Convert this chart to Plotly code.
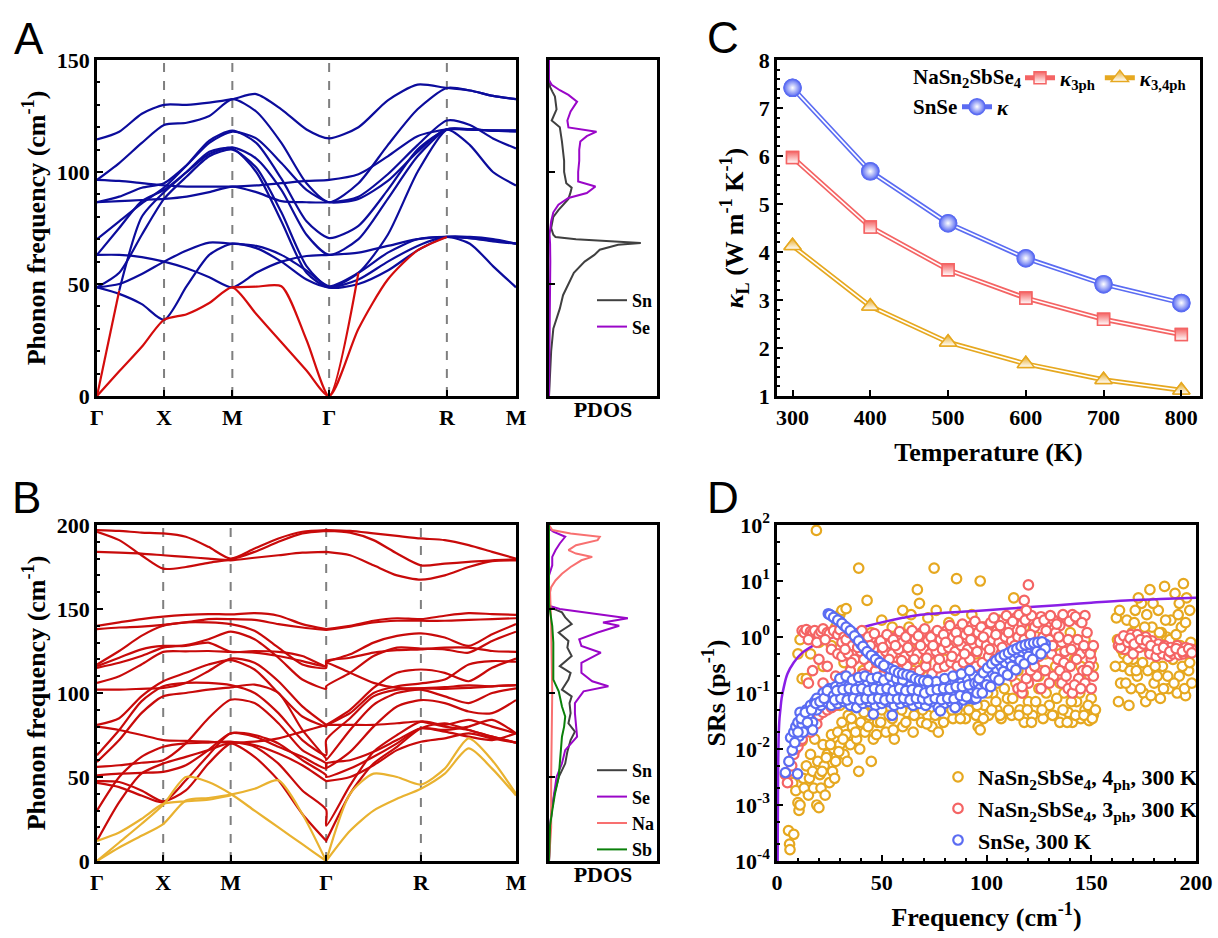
import plotly.graph_objects as go

SERIF = "Liberation Serif"
SANS = "Liberation Sans"

# ---------------- panel A : SnSe phonon dispersion ----------------
kA = [0, 0.053, 0.107, 0.16, 0.214, 0.268, 0.323, 0.38, 0.44, 0.5, 0.554,
      0.624, 0.694, 0.765, 0.835, 0.89, 0.945, 1.0]
kA_sym = [0, 0.16, 0.323, 0.554, 0.835, 1.0]
sym_labels = ["Γ", "X", "M", "Γ", "R", "M"]

bandsA_acoustic = [
    [0, 11, 22, 34, 36.5, 41.5, 48.5, 36.6, 24, 11.4, 0, 30, 52, 65, 71, None, None, None],
    [0, 47, None, None, None, None, 48.5, 48.8, 49, 25, 0, 55, None, None, None, None, None, None],
]
bandsA_optical = [
    [114.5, 118, 126, 130, 130, 131, 132.5, 134.8, 128, 119, 115, 120, 132, 139, 137.5, 136.4, 134, 132.5],
    [96.5, 104, 113, 121, 122, 125, 132.5, 127, 113, 95, 86.5, 95, 112, 128, 137.5, 136.4, 134, 132.5],
    [96.5, 96, 95, 94, 93.5, 93.5, 93.5, 94, 95, 96, 96.5, 99, 107, 116, 119, 119, 118.5, 118.5],
    [86.5, 87, 87.5, 88, 89, 91, 93.5, 91, 87, 86.5, 86.5, 89, 99, 112, 123, 121, 115, 110.5],
    [86.5, 89, 93, 95, 103, 113, 118, 115, 104, 92, 86.5, 88, 96, 109, 119, 112, 100, 94],
    [70, 78, 86, 93, 103, 114, 118.5, 113, 97, 78, 70.5, 76, 92, 110, 119, 119, 118.5, 118],
    [63, 75, 87, 92, 100, 108, 111, 106, 92, 72, 63, 70, 88, 107, 119, 119, 118.5, 118.5],
    [None, 47, 80, 91, 100, 109, 110.5, 100, 78, 55, 48.5, 55, 72, 100, 119, 119, 118.5, 118.5],
    [48.5, 55, 72, 88, 98, 107, 110, 102, 82, 58, 48.5, 50, 56, 65, 71, 71, 70, 68],
    [48.5, 45.6, 41, 34, 49, 63, 68, 66, 60, 52, 48.5, 52, 60, 67, 71, 68, 58, 48.5],
    [48.5, 50, 54.5, 60, 65, 68.5, 68, 67, 63, 56, 49, 55, 64, 70, 71, 70.5, 69.5, 68],
    [63, 63, 62, 60, 57, 53, 48.5, 55, 60, 62.5, 63, 64, 67, 70, 71, 70.5, 69, 68],
]

pdosA_freq_sn = [0, 10, 20, 30, 39, 45, 50, 55, 60, 63, 65.3, 66.8, 67.5, 68.3, 69, 70, 71,
                 72, 75, 80, 83, 86, 88, 91, 93, 95, 100, 105, 110, 113.6, 120, 123, 128,
                 133.7, 136, 138, 141, 150]
pdosA_sn = [0, 0.01, 0.02, 0.04, 0.1, 0.13, 0.18, 0.23, 0.33, 0.42, 0.47, 0.58, 0.64, 0.85,
            0.55, 0.25, 0.06, 0.04, 0.02, 0.04, 0.087, 0.14, 0.18, 0.2, 0.21, 0.16, 0.14,
            0.14, 0.13, 0.12, 0.1, 0.025, 0.07, 0.055, 0.03, 0.01, 0, 0]
pdosA_freq_se = [0, 20, 40, 60, 68, 72, 78, 82, 85.4, 88.4, 90.6, 93.5, 95.8, 100, 105, 110,
                 113.6, 116, 118, 119.9, 123, 127, 131.4, 134.4, 136.5, 138.9, 141, 150]
pdosA_se = [0, 0.005, 0.008, 0.012, 0.01, 0.005, 0.02, 0.04, 0.087, 0.18, 0.35, 0.43, 0.27,
            0.27, 0.28, 0.28, 0.29, 0.35, 0.44, 0.18, 0.17, 0.2, 0.26, 0.18, 0.1, 0.025, 0, 0]

# ---------------- panel B : NaSn2SbSe4 phonon dispersion ----------------
kB = [0, 0.053, 0.106, 0.158, 0.212, 0.266, 0.319, 0.376, 0.433, 0.49, 0.547, 0.547,
      0.604, 0.66, 0.716, 0.773, 0.83, 0.887, 0.943, 1.0]
kB_sym = [0, 0.158, 0.319, 0.547, 0.773, 1.0]

bandsB_acoustic = [
    [0, 8, 15, 22, 36, 37.5, 39.5, 43, 48, 28, 0, 0, 18, 30, 37, 43, 52, 67, 55, 39],
    [0, 11, 22, 33.5, 50, 47, 40, 30, 20, 10, 0, 0, 40, 52, 50, 45.5, 55, 73, 60, 40],
    [12, 17, 25, 34, 35.5, 36.5, 39, None, None, None, None, None, None, None, None, None, None, None, None, None],
]
bandsB_optical = [
    [197, 196.5, 195.5, 195, 193, 187, 180, 186, 192, 196, 197, 197, 196.5, 195, 193.5, 192, 191, 188, 184, 180],
    [196, 191, 182, 174, 175, 177.5, 179.5, 184, 190, 195, 196.5, 196.5, 195.5, 191, 183, 176, 177, 178, 179, 179.5],
    [184, 183.5, 183, 182, 181, 180, 179, 180.5, 182, 183.5, 184, 184, 182, 176, 170, 167.5, 170, 175, 178.5, 179],
    [140, 142, 144, 145.5, 146.5, 147, 146.8, 147.5, 146, 141, 138, 138, 140, 143, 144.5, 144, 146, 147.5, 147, 146.5],
    [138, 139, 139.5, 140.5, 142, 144, 144, 143.5, 141, 139, 137.5, 137.5, 139.5, 142, 143, 143, 143, 143.5, 144, 144.5],
    [117, 125, 134, 140, 142, 142, 141, 137, 127, 117, 115, 118, 123, 130, 134, 135.5, 133, 128, 135, 141],
    [115, 118, 122, 127, 128.5, 132, 136.5, 132, 121, 108, 102.5, 104, 112, 122, 127, 126.5, 126, 124, 131, 136.5],
    [106, 110, 117, 124.5, 124.8, 125, 124.5, 124, 122, 119, 116, 119, 121, 124, 125.5, 126, 127, 127, 125, 124.5],
    [116, 121, 126, 128, 128, 130, 124.5, 125, 124.5, 122, 116, 118, 112, 106, 103, 102.8, 103.5, 104.5, 104, 104.7],
    [102, 102, 102.5, 103, 106, 113, 120.5, 118, 107, 92, 81, 81, 90, 103, 112, 114, 112, 107, 115, 120.5],
    [81, 85, 98, 107, 112, 117, 119.6, 114, 100, 86, 80, 80.5, 88, 100, 104, 105.7, 108, 117, 119, 118.6],
    [80, 78, 75, 72, 71.5, 71, 70.5, 71, 73, 77, 81, 81, 81, 81, 82, 83, 80, 78, 74, 70.5],
    [63, 78, 95, 104, 106, 106, 104.7, 100, 88, 72, 63, 72, 85, 98, 102, 102.8, 102.5, 103, 104, 104.7],
    [59, 72, 88, 98, 100, 102, 103.4, 105, 100, 78, 60.7, 60, 78, 93, 100, 102, 98, 94, 100, 102.8],
    [56, 57, 58.5, 60, 70, 85, 96, 94, 82, 66, 58, 55.5, 65, 80, 92, 95.8, 94, 89, 88, 95.8],
    [51, 52, 52.5, 53, 57, 66, 76, 74, 68, 62, 55, 58, 60, 65, 72, 79, 78, 80, 84, 76],
    [47.5, 47, 42, 35.5, 42, 58, 70, 69, 64, 57, 47.5, 47.5, 50, 57, 66, 71, 73, 76, 73, 70.5],
    [46.5, 44, 39, 35, 48, 63, 76, 75, 70, 60, 51, 50, 55, 62, 70, 79, 77, 74, 72, 76],
    [30, 50, 62, 68, 70, 70.5, 71, 68, 58, 42, 30.5, 21, 45, 65, 75, 83, 81, 84, 80, 76],
    [12, 35, 52, 58, 62, 66, 70, 62, 48, 28, 12, 12, 40, 58, 68, 79, 82, 78, 74, 70.5],
]

pdosB_freq_sn = [0, 10, 20, 30, 40, 50, 58, 65, 72, 77, 82, 88, 94, 98, 102, 108, 112, 116,
                 122, 127, 131, 136, 141, 145, 148, 151, 153, 200]
pdosB_sn = [0, 0.005, 0.01, 0.025, 0.05, 0.09, 0.15, 0.17, 0.2, 0.24, 0.18, 0.2, 0.19, 0.21,
            0.12, 0.18, 0.2, 0.1, 0.21, 0.17, 0.18, 0.09, 0.21, 0.15, 0.12, 0.01, 0, 0]
pdosB_freq_se = [0, 10, 20, 30, 40, 50, 58, 66, 74, 82, 88, 94, 101, 104, 107, 112, 118, 124,
                 128, 132, 136, 140, 142, 144.5, 147, 150, 152, 170, 176, 181, 185, 189, 193,
                 196, 198, 200]
pdosB_se = [0, 0.005, 0.01, 0.025, 0.05, 0.07, 0.12, 0.15, 0.26, 0.25, 0.24, 0.24, 0.32,
            0.55, 0.4, 0.3, 0.3, 0.48, 0.3, 0.28, 0.45, 0.65, 0.5, 0.73, 0.45, 0.1, 0, 0,
            0.03, 0.03, 0.06, 0.1, 0.15, 0.04, 0, 0]
pdosB_freq_na = [0, 20, 50, 100, 140, 152, 160, 163, 167, 171, 175, 179, 181, 183, 185, 188,
                 191, 193, 195, 197, 200]
pdosB_na = [0, 0.02, 0.02, 0.03, 0.02, 0.01, 0.01, 0.02, 0.06, 0.12, 0.2, 0.3, 0.4, 0.25,
            0.18, 0.25, 0.45, 0.47, 0.2, 0.03, 0]
pdosB_freq_sb = [0, 10, 21, 30, 40, 50, 60, 74, 80, 86, 92, 98, 101, 108, 120, 130, 140, 150,
                 153, 200]
pdosB_sb = [0, 0.003, 0.01, 0.03, 0.055, 0.09, 0.1, 0.12, 0.14, 0.15, 0.12, 0.1, 0.09, 0.04,
            0.04, 0.04, 0.03, 0.01, 0, 0]

# ---------------- panel C : lattice thermal conductivity ----------------
temperature = [300, 400, 500, 600, 700, 800]
kappa_snse = [7.42, 5.68, 4.60, 3.87, 3.33, 2.94]
kappa_3ph = [5.97, 4.52, 3.63, 3.04, 2.60, 2.28]
kappa_34ph = [4.13, 2.87, 2.12, 1.67, 1.34, 1.12]

# ---------------- panel D : scattering rates (freq, SR) ----------------
sr_4ph = [
    (5.5, 3.5e-4), (6, 2e-4), (6.2, 1.6e-4), (8, 3e-4), (7.5, 2.5e-3), (9, 1.8e-3), (10, 1.1e-3),
    (10.5, 8e-4), (11, 1e-3), (12, 1.4e-2), (12.5, 3e-3), (13, 2e-3), (14, 5e-3), (15, 1.5e-3),
    (15.5, 3e-3), (16, 8e-3), (17, 4e-3), (17.5, 2e-3), (18, 1.5e-2), (19, 1e-3), (19.5, 6e-3),
    (20, 9e-4), (20.5, 3.5e-3), (21, 2e-3), (22, 1.2e-2), (22.5, 5e-3), (23, 1.5e-3), (24, 8e-3),
    (25, 2.5e-3), (26, 1.8e-2), (26.5, 4e-3), (27, 1e-2), (28, 6e-3), (29, 2e-2), (30, 1.2e-2),
    (31, 3e-2), (32, 8e-3), (33, 1.8e-2), (34, 4e-2), (35, 1.2e-2), (36, 2.5e-2), (37, 6e-2),
    (38, 1.5e-2), (39, 4e-3), (40, 3e-2), (41, 8e-2), (42, 2e-2), (44, 4e-2), (45, 6e-3),
    (46, 1.5e-2), (47, 9e-2), (48, 3e-2), (50, 5e-2), (52, 2e-2), (53, 1.2e-1), (55, 3.5e-2),
    (56, 1.5e-2), (58, 7e-2), (60, 2.5e-2), (62, 4.5e-2), (63, 1.5e-1), (65, 2e-2), (67, 6e-2),
    (69, 3e-2), (70, 1e-1), (72, 4e-2), (74, 2.5e-2), (75, 7e-2), (77, 2e-2), (79, 1.5e-1),
    (80, 4e-2), (82, 8e-2), (84, 3.5e-2), (86, 5e-2), (88, 1.2e-1), (90, 3.5e-2), (92, 7e-2),
    (95, 4e-2), (96, 2.5e-2), (97, 2.2e-2), (99, 6e-2), (101, 4e-2), (103, 1e-1), (105, 5e-2),
    (107, 3.5e-2), (110, 8e-2), (112, 4e-2), (114, 1.5e-1), (116, 5e-2), (118, 3e-2), (120, 7e-2),
    (122, 4e-2), (125, 1.2e-1), (127, 3.5e-2), (130, 6e-2), (132, 4e-2), (135, 3e-2), (137, 1e-1),
    (139, 4.5e-2), (141, 3e-2), (143, 7e-2), (145, 3.5e-2), (147, 5e-2), (149, 3.2e-2), (150, 8e-2),
    (151, 4e-2), (10, 0.5), (11, 0.9), (12, 0.18), (14, 0.18), (16, 0.5), (20, 0.8), (22, 0.3),
    (26, 0.7), (28, 1.5), (30, 2.5), (31, 3), (33, 1.2), (36, 0.5), (38, 0.15), (40, 1), (43, 0.3),
    (45, 1.2), (48, 0.6), (50, 2), (52, 0.25), (55, 1.5), (57, 0.4), (60, 3), (62, 0.8), (64, 2.5),
    (66, 0.3), (68, 4), (70, 1.2), (72, 2.2), (74, 0.5), (76, 3), (78, 1), (80, 0.4), (82, 1.8),
    (85, 3), (88, 0.6), (90, 1.5), (93, 2.5), (95, 0.5), (98, 1.5), (100, 0.8), (103, 0.3),
    (106, 2), (110, 1), (113, 0.4), (118, 1.5), (122, 0.6), (126, 0.25), (130, 1), (135, 0.5),
    (140, 1.2), (145, 0.3), (150, 0.6), (30, 0.06), (35, 0.1), (42, 0.12), (50, 0.2), (58, 0.15),
    (65, 0.25), (72, 0.2), (80, 0.15), (88, 0.25), (96, 0.2), (105, 0.15), (115, 0.25), (125, 0.2),
    (135, 0.15), (145, 0.18), (18.8, 80), (39, 17), (43, 4.5), (67, 7), (75, 17), (85.7, 11),
    (97, 10), (113, 5), (33, 3.2),
    (21.5, 4e-3), (23.5, 7e-3), (25.5, 1.2e-2), (27.5, 3e-3), (29.5, 9e-3), (31.5, 1.5e-2),
    (33.5, 6e-3), (35.5, 3.5e-2), (37.5, 2e-2), (39.5, 1e-2), (41.5, 4.5e-2), (43.5, 2.5e-2),
    (45.5, 6e-2), (47.5, 1.8e-2), (49.5, 3e-2), (51.5, 8e-2), (53.5, 4e-2), (55.5, 2.2e-2),
    (57.5, 1e-1), (59.5, 5e-2), (61.5, 3e-2), (63.5, 7e-2), (65.5, 4e-2), (67.5, 1.2e-1),
    (69.5, 5e-2), (71.5, 2.8e-2), (73.5, 9e-2), (75.5, 4e-2), (77.5, 6e-2), (79.5, 3e-2),
    (81.5, 1.1e-1), (83.5, 5e-2), (85.5, 7e-2), (87.5, 3.5e-2), (89.5, 9e-2), (91.5, 5e-2),
    (93.5, 1.3e-1), (95.5, 6e-2), (98.5, 3.5e-2), (100.5, 1e-1), (102.5, 5e-2), (104.5, 7e-2),
    (106.5, 4e-2), (108.5, 1.2e-1), (110.5, 5e-2), (112.5, 8e-2), (115.5, 4e-2), (117.5, 1e-1),
    (119.5, 5e-2), (121.5, 3e-2), (123.5, 7e-2), (126.5, 5e-2), (128.5, 1e-1), (131.5, 4e-2),
    (133.5, 8e-2), (136.5, 5e-2), (138.5, 3e-2), (140.5, 7e-2), (142.5, 4e-2), (144.5, 1e-1),
    (146.5, 4e-2), (148.5, 6e-2), (150.5, 3.5e-2), (152, 5e-2),
    (32, 0.35), (37, 0.8), (41, 0.25), (46, 0.4), (51, 0.7), (54, 0.3), (59, 0.5), (63, 1.5),
    (67, 0.6), (71, 0.35), (75, 0.9), (79, 0.3), (83, 0.7), (87, 1.2), (91, 0.4), (94, 0.9),
    (99, 0.35), (102, 1.2), (107, 0.5), (111, 0.3), (116, 0.8), (120, 0.35), (124, 1.0), (128, 0.5),
    (133, 0.3), (138, 0.7), (142, 0.4), (147, 0.9), (151, 0.3),
    (162, 2.2), (163, 0.07), (164, 0.15), (165, 0.3), (166, 1), (167, 2), (168, 0.06), (169, 0.12),
    (170, 0.4), (171, 3), (172, 0.2), (173, 0.8), (174, 4), (175, 0.1), (176, 0.07), (177, 0.25),
    (178, 7), (179, 1.5), (180, 0.15), (181, 0.5), (182, 3), (183, 0.08), (184, 0.3), (185, 8),
    (186, 1), (187, 0.12), (188, 2), (189, 0.4), (190, 6), (191, 0.1), (192, 0.2), (193, 1.5),
    (194, 9), (195, 0.09), (196, 0.5), (197, 3), (196.5, 0.25), (195.5, 5), (192.5, 0.7),
    (188.5, 0.8), (183.5, 1.2), (176.5, 2.5), (170.5, 1.8), (165.5, 0.5), (168.5, 0.25),
    (174.5, 0.35), (180.5, 0.3), (186.5, 0.2), (191.5, 2.5), (161.5, 0.3), (162.5, 0.9),
    (163.5, 3), (164.5, 0.6), (166.5, 0.15), (167.5, 0.4), (169.5, 1.2), (171.5, 0.25), (172.5, 5),
    (173.5, 0.12), (175.5, 1.5), (177.5, 0.6), (178.5, 0.09), (179.5, 4), (181.5, 0.2),
    (182.5, 1.2), (184.5, 0.12), (185.5, 2), (187.5, 0.9), (189.5, 0.15), (190.5, 1.1), (192, 4),
    (193.5, 0.3), (194.5, 0.12), (195, 1.8), (197.5, 0.8), (198, 0.15), (197, 0.35),
]
sr_3ph = [
    (4, 3.5e-3), (5, 2.5e-3), (6, 4e-3), (7, 5e-3), (8, 8e-3), (9, 1e-2), (10, 1.1e-2), (11, 1.4e-2),
    (12, 1.5e-2), (13, 2e-2), (14, 2.2e-2), (15, 2.5e-2), (16, 2e-2), (17, 3e-2), (18, 3.5e-2),
    (19, 2.8e-2), (20, 4e-2), (22, 4.5e-2), (24, 5e-2), (26, 5.5e-2), (28, 6e-2),
    (12, 1.3), (13, 1.2), (14, 1.35), (16, 1.25), (17, 1.2), (18, 1.3), (20, 1.1), (21, 1.25),
    (22, 1.4), (24, 1.2), (25, 1.15), (27, 1.3), (29, 1.1), (30, 1.35), (32, 1), (15, 0.9),
    (19, 0.8), (23, 0.9), (26, 0.6), (15, 0.15), (17, 0.25), (20, 0.4), (22, 0.15), (24, 0.3),
    (26, 0.12), (28, 0.2), (29, 0.5), (30, 0.1), (31, 0.8),
    (33, 0.9), (36, 0.7), (39, 1.1), (42, 0.8), (45, 0.95), (48, 0.7), (51, 0.9), (54, 0.75),
    (57, 1.0), (60, 0.8), (63, 1.1), (66, 0.9), (69, 1.2), (72, 0.85), (75, 1.1), (78, 0.9),
    (81, 1.3), (84, 1.0), (87, 1.4), (90, 1.1), (93, 1.6), (96, 1.2), (99, 1.5), (102, 1.8),
    (105, 1.3), (108, 2.0), (111, 1.6), (114, 2.2), (117, 1.7), (120, 2.0), (123, 1.5), (126, 2.3),
    (129, 1.8), (132, 2.0), (135, 1.6), (138, 2.2), (141, 2.5), (144, 2.0), (147, 2.4),
    (31, 0.45), (34, 0.5), (37, 0.4), (40, 0.55), (43, 0.5), (46, 0.6), (49, 0.45), (52, 0.55),
    (55, 0.5), (58, 0.6), (61, 0.45), (64, 0.55), (67, 0.5), (70, 0.6), (73, 0.5), (76, 0.55),
    (79, 0.6), (82, 0.65), (85, 0.55), (88, 0.7), (91, 0.6), (94, 0.75), (97, 0.8), (100, 0.7),
    (103, 0.9), (106, 0.8), (109, 1.0), (112, 0.85), (115, 1.0), (118, 0.9), (121, 1.1), (124, 0.8),
    (127, 1.0), (130, 0.9), (133, 1.2), (136, 0.8), (139, 0.9), (142, 0.7), (145, 0.5), (148, 0.6),
    (150, 0.4), (32, 0.2), (35, 0.25), (38, 0.18), (41, 0.22), (44, 0.3), (47, 0.25), (50, 0.2),
    (53, 0.28), (56, 0.3), (59, 0.25), (62, 0.3), (65, 0.22), (68, 0.25), (71, 0.3), (74, 0.22),
    (77, 0.28), (80, 0.3), (83, 0.35), (86, 0.3), (89, 0.35), (92, 0.4), (95, 0.3), (98, 0.35),
    (101, 0.45), (104, 0.4), (107, 0.5), (110, 0.45), (113, 0.55), (116, 0.5), (119, 0.6),
    (122, 0.5), (125, 0.45), (128, 0.55), (131, 0.5), (134, 0.4), (137, 0.35), (140, 0.3),
    (143, 0.4), (146, 0.25), (149, 0.3), (151, 0.2), (30, 0.08), (33, 0.1), (36, 0.09), (40, 0.12),
    (44, 0.1), (48, 0.13), (52, 0.15), (56, 0.12), (60, 0.14), (64, 0.16), (68, 0.13), (72, 0.15),
    (76, 0.14), (80, 0.16), (84, 0.18), (88, 0.15), (92, 0.2), (96, 0.18), (100, 0.2), (104, 0.22),
    (108, 0.25), (112, 0.2), (115, 0.12), (117, 0.1), (120, 0.15), (124, 0.2), (128, 0.25),
    (132, 0.2), (136, 0.15), (139, 0.12), (141, 0.1), (144, 0.18), (147, 0.15),
    (34.5, 1.2), (37.5, 0.95), (40.5, 1.3), (43.5, 1.0), (46.5, 1.15), (49.5, 0.85), (52.5, 1.1),
    (55.5, 0.9), (58.5, 1.25), (61.5, 1.0), (64.5, 1.3), (67.5, 1.05), (70.5, 1.4), (73.5, 1.0),
    (76.5, 1.3), (79.5, 1.1), (82.5, 1.6), (85.5, 1.2), (88.5, 1.7), (91.5, 1.3), (94.5, 1.9),
    (97.5, 1.5), (100.5, 1.2), (103.5, 2.2), (106.5, 1.6), (109.5, 2.4), (112.5, 1.9), (115.5, 2.5),
    (118.5, 2.0), (121.5, 2.4), (124.5, 1.8), (127.5, 2.0), (130.5, 2.4), (133.5, 1.7),
    (136.5, 2.5), (139.5, 1.9), (142.5, 2.3), (145.5, 1.8), (148, 1.2),
    (32.5, 0.6), (35.5, 0.35), (38.5, 0.65), (41.5, 0.4), (44.5, 0.7), (47.5, 0.35), (50.5, 0.65),
    (53.5, 0.4), (56.5, 0.7), (59.5, 0.38), (62.5, 0.65), (65.5, 0.4), (68.5, 0.7), (71.5, 0.42),
    (74.5, 0.7), (77.5, 0.4), (80.5, 0.8), (83.5, 0.45), (86.5, 0.85), (89.5, 0.5), (92.5, 0.9),
    (95.5, 0.55), (98.5, 1.0), (101.5, 0.6), (104.5, 1.1), (107.5, 0.65), (110.5, 1.2),
    (113.5, 0.7), (116.5, 1.3), (119.5, 0.75), (122.5, 0.35), (125.5, 0.7), (128.5, 1.3),
    (131.5, 0.7), (134.5, 1.0), (137.5, 0.55), (140.5, 0.6), (143.5, 0.9), (146.5, 0.7),
    (149.5, 0.5), (151, 0.7), (117, 0.13), (119, 0.18), (121, 0.25), (123, 0.3), (126, 0.12),
    (130, 0.15), (135, 0.25), (138, 0.2), (142, 0.14), (145, 0.12), (148, 0.25), (150, 0.12),
    (120, 8.5), (118, 4.5), (119, 3),
    (163, 0.7), (165, 0.8), (167, 1.0), (169, 1.1), (171, 0.9), (172, 1.1), (174, 0.85), (176, 1.0),
    (177, 0.7), (179, 0.85), (180, 0.6), (182, 0.75), (183, 0.55), (185, 0.7), (186, 0.6),
    (188, 0.65), (190, 0.55), (191, 0.7), (193, 0.6), (195, 0.65), (197, 0.6), (166, 0.6),
    (170, 0.5), (173, 0.65), (178, 0.5), (181, 0.45), (184, 0.5), (187, 0.45), (189, 0.5),
    (192, 0.48), (194, 0.5), (196, 0.55), (164, 0.65), (175, 0.75), (198, 0.6),
    (163.5, 0.9), (165.5, 1.05), (167.5, 0.8), (168.5, 0.95), (170.5, 0.75), (173.5, 0.9),
    (176.5, 0.85), (178.5, 0.7), (181.5, 0.6), (184.5, 0.65), (187.5, 0.55), (190.5, 0.62),
    (193.5, 0.55), (196.5, 0.62), (198, 0.52),
]
sr_snse = [
    (4, 3.8e-3), (9.8, 3.6e-3), (5.7, 6e-3), (7.3, 9.5e-3), (6.5, 1.6e-2), (10.6, 1.7e-2), (8, 2e-2),
    (9, 2.5e-2), (10, 3e-2), (11, 4.5e-2), (12, 2.8e-2), (13, 3.5e-2), (14, 5e-2), (15, 4e-2),
    (16, 6e-2), (17, 3e-2), (18, 7e-2), (19, 5e-2), (20, 8e-2), (21, 6e-2), (22, 1e-1), (23, 7e-2),
    (24, 9e-2), (25, 1.2e-1), (15, 2.3e-2), (17, 2.2e-2), (19, 8e-2),
    (11.5, 3.5e-2), (13.5, 4.5e-2), (16.5, 5e-2), (18.5, 6.5e-2), (20.5, 7e-2), (22.5, 8e-2),
    (24, 0.11), (12.5, 2e-2), (14.5, 3e-2), (10, 2e-2), (8.5, 1.3e-2),
    (26, 0.06), (29, 0.065), (32, 0.07), (35, 0.06), (38, 0.055), (41, 0.065), (44, 0.07),
    (47, 0.06), (50, 0.065), (53, 0.07), (56, 0.06), (59, 0.065), (62, 0.07), (65, 0.06),
    (68, 0.065), (71, 0.06), (74, 0.07), (77, 0.055), (80, 0.065), (83, 0.07), (86, 0.06),
    (89, 0.075), (92, 0.08), (94, 0.078), (27, 0.09), (30, 0.1), (33, 0.095), (36, 0.1), (39, 0.09),
    (42, 0.1), (45, 0.095), (48, 0.1), (51, 0.09), (54, 0.1), (57, 0.095), (60, 0.1), (63, 0.09),
    (66, 0.1), (69, 0.095), (72, 0.09), (75, 0.1), (78, 0.095), (81, 0.1), (84, 0.09), (87, 0.11),
    (90, 0.1), (93, 0.12), (95, 0.13), (28, 0.13), (31, 0.14), (34, 0.13), (37, 0.14), (40, 0.15),
    (43, 0.14), (46, 0.15), (49, 0.13), (52, 0.15), (55, 0.14), (58, 0.15), (61, 0.13), (64, 0.14),
    (67, 0.13), (70, 0.12), (73, 0.13), (76, 0.14), (79, 0.15), (82, 0.14), (85, 0.16), (88, 0.15),
    (91, 0.18), (94, 0.2), (30, 0.18), (33, 0.2), (36, 0.17), (39, 0.19), (42, 0.2), (45, 0.18),
    (48, 0.19), (51, 0.17), (54, 0.2), (57, 0.18), (60, 0.17), (64, 0.19), (68, 0.16), (72, 0.17),
    (76, 0.16), (80, 0.18), (84, 0.2), (88, 0.22), (92, 0.25),
    (27.5, 0.075), (30.5, 0.08), (33.5, 0.075), (36.5, 0.08), (39.5, 0.075), (42.5, 0.08),
    (45.5, 0.078), (48.5, 0.08), (51.5, 0.075), (54.5, 0.08), (57.5, 0.078), (60.5, 0.08),
    (63.5, 0.075), (66.5, 0.08), (69.5, 0.078), (72.5, 0.075), (75.5, 0.08), (78.5, 0.076),
    (81.5, 0.08), (84.5, 0.078), (87.5, 0.09), (90.5, 0.085), (28.5, 0.11), (31.5, 0.115),
    (34.5, 0.12), (37.5, 0.115), (40.5, 0.12), (43.5, 0.11), (46.5, 0.12), (49.5, 0.115),
    (52.5, 0.12), (55.5, 0.11), (58.5, 0.12), (61.5, 0.11), (64.5, 0.115), (67.5, 0.11),
    (70.5, 0.1), (73.5, 0.11), (76.5, 0.115), (79.5, 0.12), (82.5, 0.12), (85.5, 0.13),
    (88.5, 0.13), (91.5, 0.14), (94.5, 0.15),
    (46, 0.042), (55, 0.04), (78, 0.048), (85, 0.055), (95, 0.08),
    (24.5, 2.6), (26, 2.4), (28, 2.1), (30, 1.9), (32, 1.6), (34, 1.4), (36, 1.2), (38, 0.95),
    (40, 0.75), (42, 0.6), (44, 0.5), (46, 0.45), (48, 0.38), (50, 0.33), (52, 0.3), (54, 0.27),
    (56, 0.25), (58, 0.23), (60, 0.22), (62, 0.21), (64, 0.2), (66, 0.18), (68, 0.17), (70, 0.165),
    (72, 0.16), (25.2, 2.5), (27, 2.25), (29, 2.0), (31, 1.75), (33, 1.5), (35, 1.3), (37, 1.05),
    (39, 0.85), (41, 0.68), (43, 0.55), (45, 0.47), (47, 0.4), (49, 0.35), (51, 0.31),
    (96, 0.15), (98, 0.2), (100, 0.25), (102, 0.3), (104, 0.35), (106, 0.4), (108, 0.45),
    (110, 0.5), (112, 0.55), (114, 0.6), (116, 0.65), (118, 0.7), (120, 0.72), (122, 0.75),
    (124, 0.78), (126, 0.8), (128, 0.75), (97, 0.12), (99, 0.15), (101, 0.18), (103, 0.22),
    (105, 0.26), (107, 0.3), (109, 0.35), (111, 0.4), (113, 0.45), (115, 0.5), (117, 0.55),
    (119, 0.6), (121, 0.62), (123, 0.65), (125, 0.68), (127, 0.7),
    (96.5, 0.18), (98.5, 0.23), (100.5, 0.28), (102.5, 0.33), (104.5, 0.38), (106.5, 0.43),
    (108.5, 0.48), (110.5, 0.52), (112.5, 0.58), (114.5, 0.62), (116.5, 0.68), (118.5, 0.72),
    (120.5, 0.75), (122.5, 0.78), (124.5, 0.8), (126.5, 0.82), (95.5, 0.1), (100, 0.14),
    (104, 0.19), (108, 0.24), (112, 0.3), (116, 0.38), (120, 0.45), (124, 0.55), (128, 0.62),
    (98, 0.1), (102, 0.13), (106, 0.17), (110, 0.21), (114, 0.26), (118, 0.33), (122, 0.4),
    (126, 0.5),
]
limit_freq = [0.3, 0.5, 0.8, 1.2, 1.6, 2.2, 3.3, 5, 8, 12, 19.6, 27, 36, 44, 52, 60, 68.6, 80,
              90, 100, 117, 134, 150, 166.5, 183, 200]
limit_sr = [1e-4, 3e-3, 1.7e-2, 3.5e-2, 5e-2, 8e-2, 0.13, 0.22, 0.35, 0.52, 0.78, 1.0, 1.3,
            1.6, 1.9, 2.2, 2.5, 2.7, 2.85, 3.0, 3.35, 3.7, 4.1, 4.5, 4.75, 5.0]

# ---------------- colours ----------------
NAVY = "#0c0c9c"
RED_A = "#d40c0c"
RED_B = "#c80a0a"
GOLD_B = "#e9b230"
C_BLUE = "#5b6cf2"
C_RED = "#f46464"
C_GOLD = "#e6a820"
PURPLE = "#8a1ee6"


def px_x(p):
    return p / 1218


def px_y(p):
    return 1 - p / 938


fig = go.Figure()


def add_bands(k, bands, color, xa, ya):
    for b in bands:
        fig.add_trace(go.Scatter(x=k, y=b, mode="lines", xaxis=xa, yaxis=ya, showlegend=False,
                                 line=dict(color=color, width=2.2, shape="spline", smoothing=0.7),
                                 hoverinfo="skip"))


add_bands(kA, bandsA_optical, NAVY, "x", "y")
add_bands(kA, bandsA_acoustic, RED_A, "x", "y")
add_bands(kB, bandsB_optical, RED_B, "x4", "y4")
add_bands(kB, bandsB_acoustic, GOLD_B, "x4", "y4")

# PDOS
for name, f, d, col in [("Sn", pdosA_freq_sn, pdosA_sn, "#404040"),
                        ("Se", pdosA_freq_se, pdosA_se, "#9a06c8")]:
    fig.add_trace(go.Scatter(x=d, y=f, mode="lines", name=name, xaxis="x2", yaxis="y2",
                             line=dict(color=col, width=2), legend="legend3"))
for name, f, d, col in [("Sn", pdosB_freq_sn, pdosB_sn, "#404040"),
                        ("Se", pdosB_freq_se, pdosB_se, "#9a06c8"),
                        ("Na", pdosB_freq_na, pdosB_na, "#f87070"),
                        ("Sb", pdosB_freq_sb, pdosB_sb, "#0a800a")]:
    fig.add_trace(go.Scatter(x=d, y=f, mode="lines", name=name, xaxis="x5", yaxis="y5",
                             line=dict(color=col, width=2), legend="legend4"))

# panel C
series_c = [
    ("<i>κ</i><sub>3ph</sub>", kappa_3ph, C_RED, "square", 12, "vertical", "legend"),
    ("<i>κ</i><sub>3,4ph</sub>", kappa_34ph, C_GOLD, "triangle-up", 15, "vertical", "legend"),
    ("<i>κ</i>", kappa_snse, C_BLUE, "circle", 17, "radial", "legend2"),
]
for name, vals, col, sym, size, grad, leg in series_c:
    marker = dict(symbol=sym, size=size, color=col, line=dict(color=col, width=1.5),
                  gradient=dict(type=grad, color="white"))
    fig.add_trace(go.Scatter(x=temperature, y=vals, mode="lines+markers", name=name,
                             xaxis="x3", yaxis="y3", legend=leg,
                             line=dict(color=col, width=5), marker=marker))
    fig.add_trace(go.Scatter(x=temperature, y=vals, mode="lines", showlegend=False,
                             xaxis="x3", yaxis="y3", line=dict(color="white", width=1.6)))
    fig.add_trace(go.Scatter(x=temperature, y=vals, mode="markers", showlegend=False,
                             xaxis="x3", yaxis="y3", marker=marker))

# panel D
for name, pts, col in [("NaSn<sub>2</sub>SbSe<sub>4</sub>, 4<sub>ph</sub>, 300 K", sr_4ph, C_GOLD),
                       ("NaSn<sub>2</sub>SbSe<sub>4</sub>, 3<sub>ph</sub>, 300 K", sr_3ph, C_RED),
                       ("SnSe, 300 K", sr_snse, C_BLUE)]:
    xs = [p[0] for p in pts]
    ys = [p[1] for p in pts]
    fig.add_trace(go.Scatter(x=xs, y=ys, mode="markers", name=name, xaxis="x6", yaxis="y6",
                             legend="legend5",
                             marker=dict(symbol="circle", size=9.5, color="white",
                                         line=dict(color=col, width=2.2))))
    if col == C_GOLD:
        fig.add_trace(go.Scatter(x=limit_freq, y=limit_sr, mode="lines", showlegend=False,
                                 xaxis="x6", yaxis="y6",
                                 line=dict(color=PURPLE, width=2.5, shape="spline")))

tickfont = dict(family=SERIF, size=22, color="black", weight="bold")
titlefont = dict(family=SERIF, size=26, color="black", weight="bold")
axis_common = dict(showline=True, linewidth=2.5, linecolor="black", mirror=True,
                   ticks="inside", ticklen=6, tickwidth=2, tickcolor="black", automargin=False,
                   tickfont=tickfont, showgrid=False, zeroline=False)

top_dom = [px_y(396), px_y(60)]
bot_dom = [px_y(861), px_y(525)]
band_dom = [px_x(97), px_x(516)]
pdos_dom = [px_x(549), px_x(657)]
right_dom = [px_x(777), px_x(1200)]
d_dom = [px_x(777), px_x(1196)]

minor_in = dict(ticks="inside", ticklen=3, tickwidth=1.5, tickcolor="black")
legfont = dict(family=SERIF, size=21, color="black", weight="bold")

fig.update_layout(
    width=1218, height=938, autosize=False,
    margin=dict(l=0, r=0, t=0, b=0),
    paper_bgcolor="white", plot_bgcolor="white",
    xaxis=dict(axis_common, domain=band_dom, range=[0, 1], tickvals=kA_sym, ticktext=sym_labels,
               anchor="y"),
    yaxis=dict(axis_common, domain=top_dom, range=[0, 150], dtick=50, anchor="x",
               minor=dict(minor_in, dtick=10),
               title=dict(text="Phonon frequency (cm<sup>-1</sup>)", font=titlefont, standoff=4)),
    xaxis2=dict(axis_common, domain=pdos_dom, range=[0, 1], showticklabels=False, ticks="",
                anchor="y2", title=dict(text="PDOS", font=dict(titlefont, size=22), standoff=4)),
    yaxis2=dict(axis_common, domain=top_dom, range=[0, 150], dtick=50, showticklabels=False,
                anchor="x2"),
    xaxis3=dict(axis_common, domain=right_dom, range=[280, 824], tickvals=temperature,
                anchor="y3", title=dict(text="Temperature (K)", font=titlefont, standoff=14)),
    yaxis3=dict(axis_common, domain=top_dom, range=[1, 8], dtick=1, anchor="x3",
                minor=dict(minor_in, dtick=0.2),
                title=dict(text="<i>κ</i><sub>L</sub> (W m<sup>-1</sup> K<sup>-1</sup>)",
                           font=titlefont, standoff=8)),
    xaxis4=dict(axis_common, domain=band_dom, range=[0, 1], tickvals=kB_sym, ticktext=sym_labels,
                anchor="y4"),
    yaxis4=dict(axis_common, domain=bot_dom, range=[0, 200], dtick=50, anchor="x4",
                minor=dict(minor_in, dtick=10),
                title=dict(text="Phonon frequency (cm<sup>-1</sup>)", font=titlefont, standoff=4)),
    xaxis5=dict(axis_common, domain=pdos_dom, range=[0, 1], showticklabels=False, ticks="",
                anchor="y5", title=dict(text="PDOS", font=dict(titlefont, size=22), standoff=4)),
    yaxis5=dict(axis_common, domain=bot_dom, range=[0, 200], dtick=50, showticklabels=False,
                anchor="x5"),
    xaxis6=dict(axis_common, domain=d_dom, range=[0, 200], dtick=50, anchor="y6",
                minor=dict(minor_in, dtick=10),
                title=dict(text="Frequency (cm<sup>-1</sup>)", font=titlefont, standoff=14)),
    yaxis6=dict(axis_common, domain=bot_dom, type="log", range=[-4, 2], anchor="x6",
                tickvals=[1e-4, 1e-3, 1e-2, 1e-1, 1, 10, 100],
                ticktext=["10<sup>-4</sup>", "10<sup>-3</sup>", "10<sup>-2</sup>", "10<sup>-1</sup>",
                          "10<sup>0</sup>", "10<sup>1</sup>", "10<sup>2</sup>"],
                minor=dict(minor_in, ticklen=3),
                title=dict(text="SRs (ps<sup>-1</sup>)", font=titlefont, standoff=2)),
    legend=dict(x=px_x(1020), y=px_y(78), xanchor="left", yanchor="middle", orientation="h",
                bgcolor="rgba(0,0,0,0)", itemwidth=30, font=legfont),
    legend2=dict(x=px_x(957), y=px_y(107), xanchor="left", yanchor="middle", orientation="h",
                 bgcolor="rgba(0,0,0,0)", itemwidth=30, font=legfont),
    legend3=dict(x=px_x(592), y=px_y(282), xanchor="left", yanchor="top",
                 bgcolor="rgba(0,0,0,0)", itemwidth=30, font=dict(legfont, size=18)),
    legend4=dict(x=px_x(592), y=px_y(752), xanchor="left", yanchor="top",
                 bgcolor="rgba(0,0,0,0)", itemwidth=30, font=dict(legfont, size=18)),
    legend5=dict(x=px_x(938), y=px_y(756), xanchor="left", yanchor="top",
                 bgcolor="rgba(0,0,0,0)", itemwidth=30, font=dict(legfont, size=22)),
)

# dashed high-symmetry lines
for xa, ya, ks in [("x", "y", kA_sym[1:-1]), ("x4", "y4", kB_sym[1:-1])]:
    for k in ks:
        fig.add_shape(type="line", xref=xa, yref=ya + " domain", x0=k, x1=k, y0=0, y1=1,
                      line=dict(color="#7f7f7f", width=2, dash="dash"), layer="below")

# panel letters and legend headers
for letter, x, y in [("A", 12, 38), ("C", 705, 37), ("B", 10, 497), ("D", 705, 497)]:
    fig.add_annotation(text=letter, x=px_x(x), y=px_y(y), xref="paper", yref="paper",
                       xanchor="left", yanchor="middle", showarrow=False,
                       font=dict(family=SANS, size=44, color="black"))
for txt, y in [("NaSn<sub>2</sub>SbSe<sub>4</sub>", 78), ("SnSe", 107)]:
    fig.add_annotation(text=txt, x=px_x(911), y=px_y(y), xref="paper", yref="paper",
                       xanchor="left", yanchor="middle", showarrow=False,
                       font=dict(family=SERIF, size=21, color="black", weight="bold"))

fig.write_html("out.html", config={"displayModeBar": False},
               post_script="document.body.style.margin='0px';")
